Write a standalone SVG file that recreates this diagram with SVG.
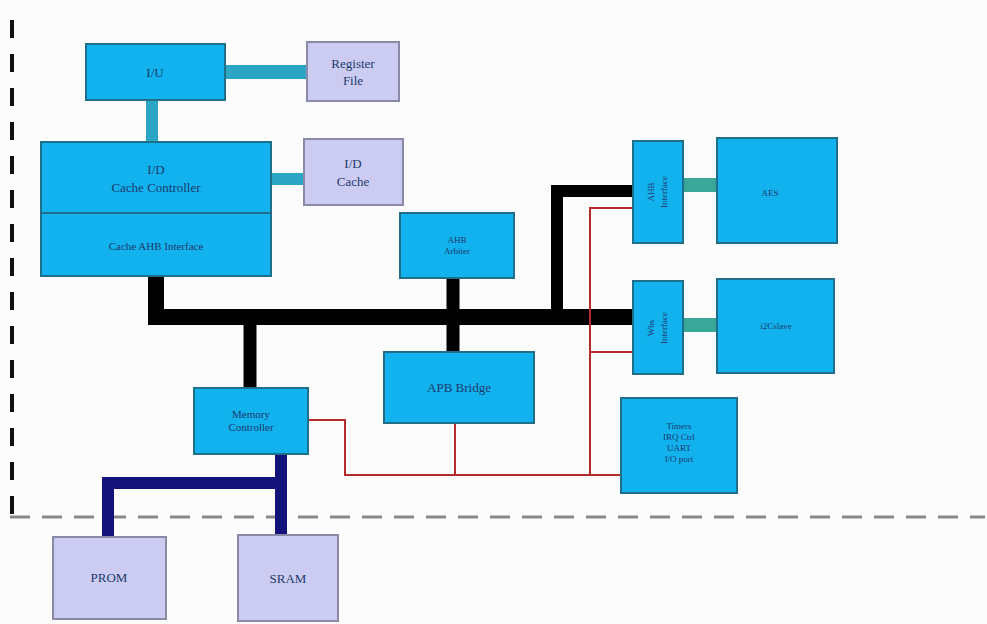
<svg xmlns="http://www.w3.org/2000/svg" width="987" height="624" viewBox="0 0 987 624">
<style>
.b{fill:#12b2ee;stroke:#1f6f8a;stroke-width:2}
.l{fill:#ccccf2;stroke:#8a8aa6;stroke-width:2}
.t{font-family:"Liberation Serif",serif;font-size:13px;fill:#1c3a6e;text-anchor:middle}
.s{font-family:"Liberation Serif",serif;font-size:9px;fill:#1c3a6e;text-anchor:middle}
.tl{stroke:#2aa6c4;fill:none}
.tg{stroke:#3aa898;fill:none}
.bk{stroke:#000;fill:none}
.nv{stroke:#12127a;fill:none}
.rd{stroke:#b52a2a;fill:none;stroke-width:2}
</style>
<rect width="987" height="624" fill="#fcfcfc"/>
<g id="frame">
<line x1="12" y1="20" x2="12" y2="515" stroke="#111" stroke-width="4" stroke-dasharray="18,16"/>
<line x1="10" y1="517" x2="985" y2="517" stroke="#888" stroke-width="3" stroke-dasharray="20,12"/>
</g>
<g id="connectors">
<line class="tl" x1="225" y1="72" x2="307" y2="72" stroke-width="14"/>
<line class="tl" x1="152" y1="100" x2="152" y2="142" stroke-width="12"/>
<line class="tl" x1="271" y1="179" x2="304" y2="179" stroke-width="12"/>
<line class="tg" x1="683" y1="185" x2="717" y2="185" stroke-width="14"/>
<line class="tg" x1="683" y1="325" x2="717" y2="325" stroke-width="14"/>
<polyline class="bk" points="156,276 156,317 633,317" stroke-width="16"/>
<line class="bk" x1="250" y1="317" x2="250" y2="388" stroke-width="13"/>
<line class="bk" x1="453" y1="278" x2="453" y2="352" stroke-width="13"/>
<polyline class="bk" points="557,317 557,191 633,191" stroke-width="12"/>
<polyline class="nv" points="281,454 281,537" stroke-width="12"/>
<polyline class="nv" points="108,537 108,483 281,483" stroke-width="12"/>
<polyline class="rd" points="308,420 345,420 345,475 621,475"/>
<line class="rd" x1="455" y1="423" x2="455" y2="475"/>
<polyline class="rd" points="633,208 590,208 590,475"/>
<line class="rd" x1="590" y1="352" x2="633" y2="352"/>
</g>
<g id="iu"><rect class="b" x="86" y="44" width="139" height="56"/><text class="t" x="155" y="77">I/U</text></g>
<g id="regfile"><rect class="l" x="307" y="42" width="92" height="59"/><text class="t" x="353" y="68">Register</text><text class="t" x="353" y="85">File</text></g>
<g id="cachectrl"><rect class="b" x="41" y="142" width="230" height="134"/><line x1="41" y1="213" x2="271" y2="213" stroke="#1f6f8a" stroke-width="2"/>
<text class="t" x="156" y="174">I/D</text><text class="t" x="156" y="192">Cache Controller</text><text class="t" x="156" y="250" style="font-size:11px">Cache AHB Interface</text></g>
<g id="idcache"><rect class="l" x="304" y="139" width="99" height="66"/><text class="t" x="353" y="168">I/D</text><text class="t" x="353" y="186">Cache</text></g>
<g id="arbiter"><rect class="b" x="400" y="213" width="114" height="65"/><text class="s" x="457" y="243">AHB</text><text class="s" x="457" y="254">Arbiter</text></g>
<g id="apb"><rect class="b" x="384" y="352" width="150" height="71"/><text class="t" x="459" y="392">APB Bridge</text></g>
<g id="memctrl"><rect class="b" x="194" y="388" width="114" height="66"/><text class="s" x="251" y="418" style="font-size:11px">Memory</text><text class="s" x="251" y="431" style="font-size:11px">Controller</text></g>
<g id="prom"><rect class="l" x="53" y="537" width="113" height="82"/><text class="t" x="109" y="582">PROM</text></g>
<g id="sram"><rect class="l" x="238" y="535" width="100" height="86"/><text class="t" x="288" y="583">SRAM</text></g>
<g id="ahbif"><rect class="b" x="633" y="141" width="50" height="102"/><text class="s" transform="translate(654,192) rotate(-90)">AHB</text><text class="s" transform="translate(667,192) rotate(-90)">Interface</text></g>
<g id="aes"><rect class="b" x="717" y="138" width="120" height="105"/><text class="s" x="770" y="196">AES</text></g>
<g id="wbif"><rect class="b" x="633" y="281" width="50" height="93"/><text class="s" transform="translate(654,328) rotate(-90)">Wbs</text><text class="s" transform="translate(667,328) rotate(-90)">Interface</text></g>
<g id="i2c"><rect class="b" x="717" y="279" width="117" height="94"/><text class="s" x="776" y="329">i2Cslave</text></g>
<g id="timers"><rect class="b" x="621" y="398" width="116" height="95"/><text class="s" x="679" y="429">Timers</text><text class="s" x="679" y="440">IRQ Ctrl</text><text class="s" x="679" y="451">UART</text><text class="s" x="679" y="462">I/O port</text></g>
</svg>
